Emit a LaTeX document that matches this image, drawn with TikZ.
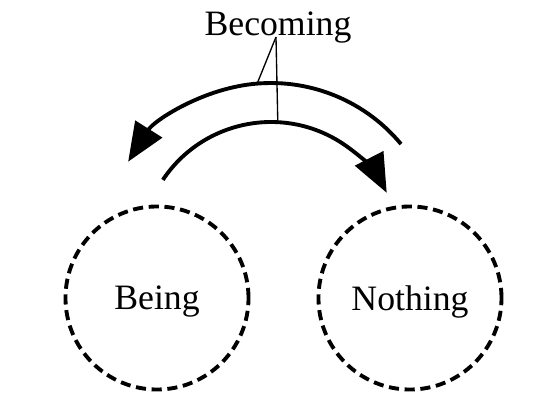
\documentclass[tikz,border=0pt]{standalone}
\usepackage{fontspec}
\setmainfont{Liberation Serif}
\usepackage{tikz}
\usetikzlibrary{arrows.meta, calc}
\tikzset{
    state/.style={circle, draw, line width=1.3pt, dash pattern=on 3.4pt off 1.9pt,
        minimum size=61.5pt, inner sep=0pt, text depth=0pt, font=\fontsize{12}{14}\selectfont},
    flow/.style={line width=1.3pt, -{Triangle[length=13pt, width=10.5pt]}},
    leader/.style={line width=0.45pt}
}

\begin{document}
\begin{tikzpicture}[x=0.336pt, y=0.336pt]
    \useasboundingbox (0,0) rectangle (560,404);

    % Draw the two states
    \foreach \name/\x/\txt in {being/157/Being, nothing/410/Nothing} {
        \node[state] (\name) at (\x,106) {\txt};
    }

    % Common centre of the two arcs
    \coordinate (mid) at (271,152);

    % Draw the arcs
    \draw[flow] (mid) ++(39.7:169) arc[start angle=39.7, end angle=147.7, radius=169];
    \draw[flow] (mid) ++(146.3:130) arc[start angle=146.3, end angle=27.1, radius=130];

    % Label and its leaders
    \node[font=\fontsize{12}{14}\selectfont, inner sep=0pt, anchor=base] (becoming) at (278,369) {Becoming};
    \coordinate (join) at (276,367);
    \coordinate (upper) at ($(mid)+(94.7:169)$);
    \coordinate (lower) at ($(mid)+(87:130)$);
    \draw[leader] (join) -- (upper);
    \draw[leader] (join) -- (lower);
\end{tikzpicture}
\end{document}
